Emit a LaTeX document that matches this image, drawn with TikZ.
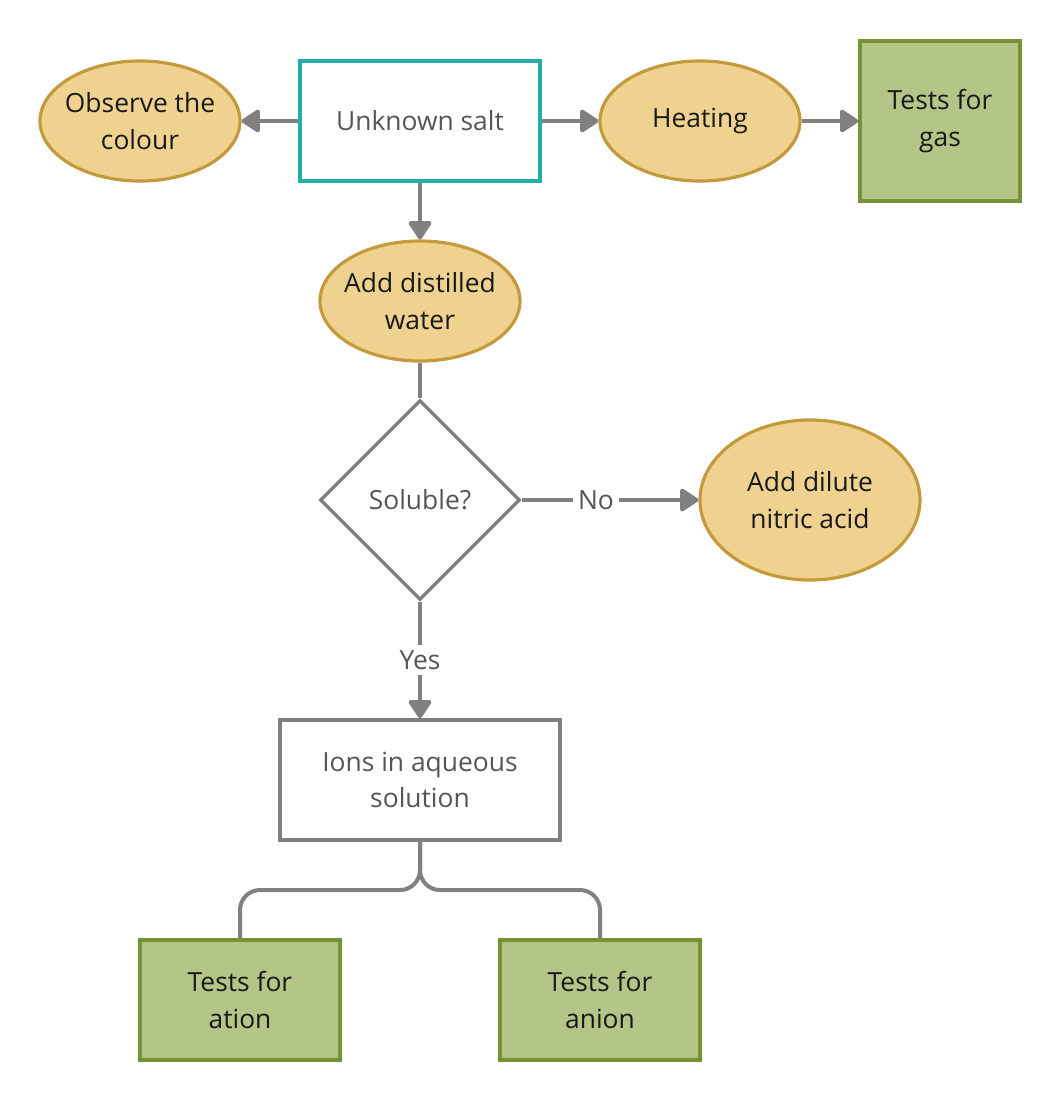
\documentclass[tikz,border=0pt]{standalone}
\usepackage{fontspec}
\setmainfont{Open Sans}
\usetikzlibrary{shapes.geometric,arrows.meta}
\definecolor{saltline}{RGB}{35,174,172}
\definecolor{ovalfill}{RGB}{240,210,144}
\definecolor{ovalline}{RGB}{196,154,60}
\definecolor{testfill}{RGB}{179,198,135}
\definecolor{testline}{RGB}{118,146,52}
\definecolor{linkgray}{RGB}{128,128,128}
\definecolor{textgray}{RGB}{85,85,85}
\begin{document}
\begin{tikzpicture}[x=0.75pt,y=-0.75pt,
  font=\fontsize{19.8}{27.5}\selectfont,
  oval/.style={ellipse,draw=ovalline,fill=ovalfill,line width=2.4pt,inner xsep=-20pt,inner ysep=-8pt,
    minimum width=150pt,minimum height=90pt,align=center,text=black!90},
  testbox/.style={rectangle,draw=testline,fill=testfill,line width=2.6pt,inner sep=0pt,
    minimum width=150pt,minimum height=90pt,align=center,text=black!90},
  plainbox/.style={rectangle,draw=linkgray,fill=white,line width=2.6pt,inner sep=0pt,
    minimum width=210pt,minimum height=90pt,align=center,text=textgray},
  link/.style={draw=linkgray,line width=3pt,-{Triangle[length=15pt,width=19pt,round]}},
  plainlink/.style={draw=linkgray,line width=3pt},
  lbl/.style={fill=white,text=textgray,inner sep=4pt}]
\useasboundingbox (0,0) rectangle (1061,1100);
  \node[plainbox,draw=saltline,minimum width=180pt] at (420,121) (salt) {Unknown salt};
  \node[oval] at (140,121) (colour) {Observe the\\colour};
  \node[oval] at (700,121) (heat) {Heating};
  \node[testbox,minimum width=120pt,minimum height=120pt] at (940,121) (gas) {Tests for\\gas};
  \node[oval] at (420,301) (water) {Add distilled\\water};
  \node[diamond,draw=linkgray,fill=white,line width=2.6pt,inner sep=0pt,
    minimum width=150pt,minimum height=150pt,text=textgray] at (420,500) (sol) {Soluble?};
  \node[oval,minimum width=165pt,minimum height=120pt] at (810,500) (acid) {Add dilute\\nitric acid};
  \node[plainbox] at (420,780) (ions) {Ions in aqueous\\solution};
  \node[testbox] at (240,1000) (cation) {Tests for\\ation};
  \node[testbox] at (600,1000) (anion) {Tests for\\anion};
  \coordinate (fork) at (420,890);
\draw[link] (salt.west)--(colour.east);
\draw[link] (salt.east)--(heat.west);
\draw[link] (heat.east)--(gas.west);
\draw[link] (salt.south)--(water.north);
\draw[plainlink] (water.south)--(sol.north);
\draw[link] (sol.east)--(acid.west) node[lbl,pos=0.42] {No};
\draw[link] (sol.south)--(ions.north) node[lbl,midway] {Yes};
\draw[plainlink,rounded corners=15pt] (ions.south)--(fork)-|(cation.north);
\draw[plainlink,rounded corners=15pt] (ions.south)--(fork)-|(anion.north);
\end{tikzpicture}
\end{document}
